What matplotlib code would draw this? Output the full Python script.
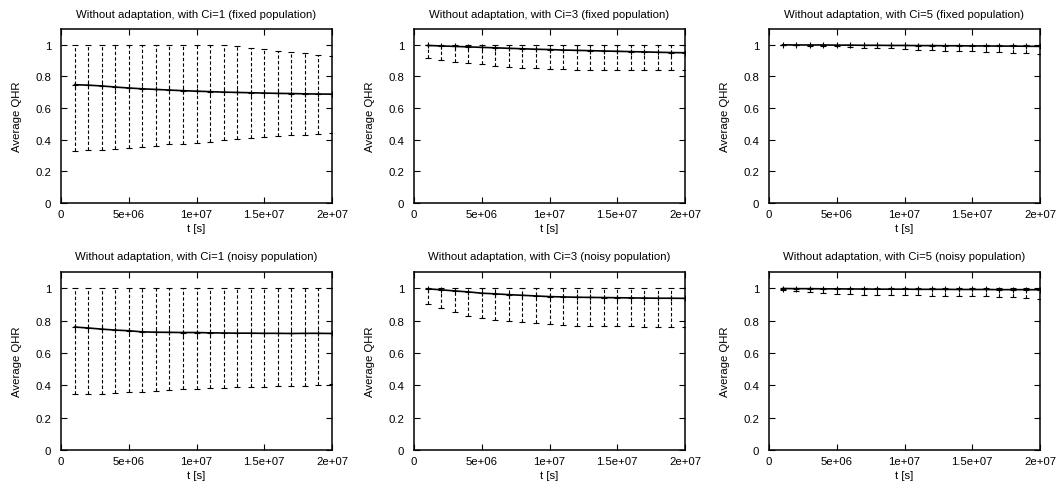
import matplotlib
matplotlib.use('Agg')
import matplotlib.pyplot as plt
import numpy as np

plt.rcParams['font.family'] = ['Liberation Sans', 'DejaVu Sans']
plt.rcParams['font.size'] = 8.2

t = np.arange(1, 21) * 1e6

titles = [
    'Without adaptation, with Ci=1 (fixed population)',
    'Without adaptation, with Ci=3 (fixed population)',
    'Without adaptation, with Ci=5 (fixed population)',
    'Without adaptation, with Ci=1 (noisy population)',
    'Without adaptation, with Ci=3 (noisy population)',
    'Without adaptation, with Ci=5 (noisy population)',
]

# Ci=1, fixed
mean_c1_fixed = [0.748, 0.745, 0.740, 0.733, 0.727, 0.722, 0.718, 0.714, 0.710, 0.707,
                 0.704, 0.701, 0.699, 0.697, 0.695, 0.693, 0.692, 0.690, 0.689, 0.688]
low_c1_fixed = [0.326, 0.332, 0.338, 0.344, 0.350, 0.355, 0.362, 0.370, 0.376, 0.382,
                0.388, 0.396, 0.402, 0.408, 0.415, 0.421, 0.427, 0.433, 0.439, 0.445]
high_c1_fixed = [1.0, 1.0, 1.0, 1.0, 1.0, 1.0, 1.0, 1.0, 1.0, 1.0,
                 1.0, 0.998, 0.990, 0.981, 0.973, 0.962, 0.956, 0.947, 0.937, 0.930]

# Ci=3, fixed
mean_c3_fixed = [0.996, 0.993, 0.990, 0.987, 0.984, 0.981, 0.978, 0.975, 0.972, 0.970,
                 0.967, 0.965, 0.963, 0.961, 0.959, 0.957, 0.955, 0.953, 0.951, 0.950]
low_c3_fixed = [0.918, 0.905, 0.893, 0.884, 0.876, 0.866, 0.859, 0.855, 0.851, 0.849,
                0.847, 0.843, 0.842, 0.841, 0.841, 0.840, 0.840, 0.839, 0.839, 0.838]
high_c3_fixed = [1.0] * 20

# Ci=5, fixed
mean_c5_fixed = [1.000, 0.999, 0.999, 0.999, 0.998, 0.998, 0.997, 0.997, 0.996, 0.996,
                 0.995, 0.995, 0.994, 0.994, 0.993, 0.993, 0.992, 0.992, 0.991, 0.990]
low_c5_fixed = [0.998, 0.997, 0.995, 0.993, 0.990, 0.987, 0.983, 0.980, 0.977, 0.973,
                0.970, 0.967, 0.964, 0.961, 0.958, 0.955, 0.952, 0.949, 0.946, 0.943]
high_c5_fixed = [1.0] * 20

# Ci=1, noisy
mean_c1_noisy = [0.760, 0.754, 0.747, 0.741, 0.737, 0.730, 0.728, 0.727, 0.726, 0.726,
                 0.724, 0.723, 0.722, 0.722, 0.721, 0.721, 0.720, 0.721, 0.721, 0.720]
low_c1_noisy = [0.344, 0.347, 0.349, 0.353, 0.357, 0.361, 0.365, 0.370, 0.376, 0.380,
                0.383, 0.385, 0.387, 0.389, 0.391, 0.393, 0.395, 0.397, 0.400, 0.405]
high_c1_noisy = [1.0] * 20

# Ci=3, noisy
mean_c3_noisy = [0.996, 0.990, 0.983, 0.977, 0.969, 0.965, 0.960, 0.956, 0.952, 0.948,
                 0.946, 0.944, 0.943, 0.942, 0.941, 0.940, 0.939, 0.938, 0.938, 0.937]
low_c3_noisy = [0.902, 0.879, 0.854, 0.831, 0.818, 0.806, 0.800, 0.791, 0.783, 0.777,
                0.772, 0.768, 0.767, 0.766, 0.766, 0.764, 0.762, 0.760, 0.760, 0.760]
high_c3_noisy = [1.0] * 20

# Ci=5, noisy
mean_c5_noisy = [0.998, 0.997, 0.997, 0.996, 0.996, 0.995, 0.995, 0.994, 0.994, 0.994,
                 0.993, 0.993, 0.993, 0.992, 0.992, 0.992, 0.991, 0.991, 0.991, 0.990]
low_c5_noisy = [0.990, 0.981, 0.975, 0.971, 0.967, 0.962, 0.960, 0.958, 0.957, 0.956,
                0.955, 0.954, 0.953, 0.952, 0.951, 0.950, 0.948, 0.946, 0.940, 0.935]
high_c5_noisy = [1.0] * 20

series = [
    (mean_c1_fixed, low_c1_fixed, high_c1_fixed),
    (mean_c3_fixed, low_c3_fixed, high_c3_fixed),
    (mean_c5_fixed, low_c5_fixed, high_c5_fixed),
    (mean_c1_noisy, low_c1_noisy, high_c1_noisy),
    (mean_c3_noisy, low_c3_noisy, high_c3_noisy),
    (mean_c5_noisy, low_c5_noisy, high_c5_noisy),
]

W, H = 1058, 489
fig = plt.figure(figsize=(W / 100, H / 100), dpi=100)

lefts = [61, 414, 769]
tops = [30, 273]
bottoms = [204, 451]
width = 271

for i, (mean, low, high) in enumerate(series):
    r, c = divmod(i, 3)
    ax = fig.add_axes([lefts[c] / W, 1 - bottoms[r] / H, width / W, (bottoms[r] - tops[r]) / H])
    mean = np.array(mean)
    low = np.array(low)
    high = np.array(high)
    eb = ax.errorbar(t, mean, yerr=[mean - low, high - mean], fmt='none', ecolor='black',
                     elinewidth=0.8, capsize=2, capthick=0.8)
    eb[2][0].set_linestyle((0, (3, 2)))
    ax.plot(t, mean, color='black', lw=1.2, marker='+', ms=4, mew=0.8)
    ax.set_xlim(0, 2e7)
    ax.set_ylim(0, 1.1)
    ax.set_xticks([0, 5e6, 1e7, 1.5e7, 2e7])
    ax.set_xticklabels(['0', '5e+06', '1e+07', '1.5e+07', '2e+07'])
    ax.set_yticks([0, 0.2, 0.4, 0.6, 0.8, 1])
    ax.set_yticklabels(['0', '0.2', '0.4', '0.6', '0.8', '1'])
    ax.tick_params(direction='in', top=True, right=True, length=4, width=0.8)
    ax.tick_params(axis='y', pad=7)
    ax.tick_params(axis='x', pad=4)
    for s in ax.spines.values():
        s.set_linewidth(1.1)
    ax.set_title(titles[i], fontsize=8.2, pad=9)
    ax.set_xlabel('t [s]', fontsize=8.2, labelpad=3)
    ax.set_ylabel('Average QHR', fontsize=8.2, labelpad=10)

fig.savefig('out.png', dpi=100)
